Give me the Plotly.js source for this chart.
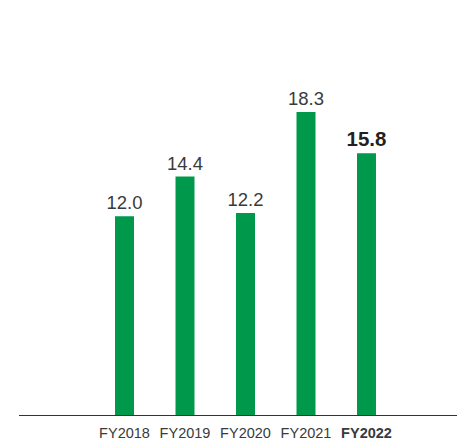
<!DOCTYPE html>
<html>
<head>
<meta charset="utf-8">
<script src="https://cdn.plot.ly/plotly-3.0.1.min.js"></script>
<style>html,body{margin:0;padding:0;background:#fff;}#chart{width:457px;height:446px;}</style>
</head>
<body>
<div id="chart"></div>
<script>
const categories = ["FY2018", "FY2019", "FY2020", "FY2021", "FY2022"];
const tickLabels = ["FY2018", "FY2019", "FY2020", "FY2021", "<b>FY2022</b>"];
const values = [12.0, 14.4, 12.2, 18.3, 15.8];
const valueLabels = ["12.0", "14.4", "12.2", "18.3", "<b>15.8</b>"];

const fontFam = '"Liberation Sans", Arial, sans-serif';

const trace = {
  type: "bar",
  x: categories,
  y: values,
  width: 0.314,
  marker: {color: "#00994c", line: {width: 0}},
  text: valueLabels,
  texttemplate: "%{text}",
  textposition: "outside",
  constraintext: "none",
  cliponaxis: false,
  textfont: {family: fontFam, size: [18.5, 18.5, 18.5, 18.5, 20.5], color: ["#3a3a3a","#3a3a3a","#3a3a3a","#3a3a3a","#231f20"]},
  hoverinfo: "none"
};

const layout = {
  width: 457, height: 446,
  margin: {l: 19, r: 0, t: 20, b: 31},
  paper_bgcolor: "#ffffff",
  plot_bgcolor: "#ffffff",
  showlegend: false,
  xaxis: {
    type: "category",
    range: [-1.744, 5.496],
    tickvals: categories,
    ticktext: tickLabels,
    showgrid: false,
    zeroline: false,
    showline: true,
    linecolor: "#333333",
    linewidth: 1,
    ticks: "",
    ticklabelstandoff: 5,
    tickfont: {family: fontFam, size: 14.5, color: "#3a3a3a"},
    fixedrange: true
  },
  yaxis: {
    range: [0, 23.85],
    visible: false,
    showgrid: false,
    zeroline: false,
    fixedrange: true
  }
};

Plotly.newPlot("chart", [trace], layout, {displayModeBar: false, staticPlot: true});
</script>
</body>
</html>
